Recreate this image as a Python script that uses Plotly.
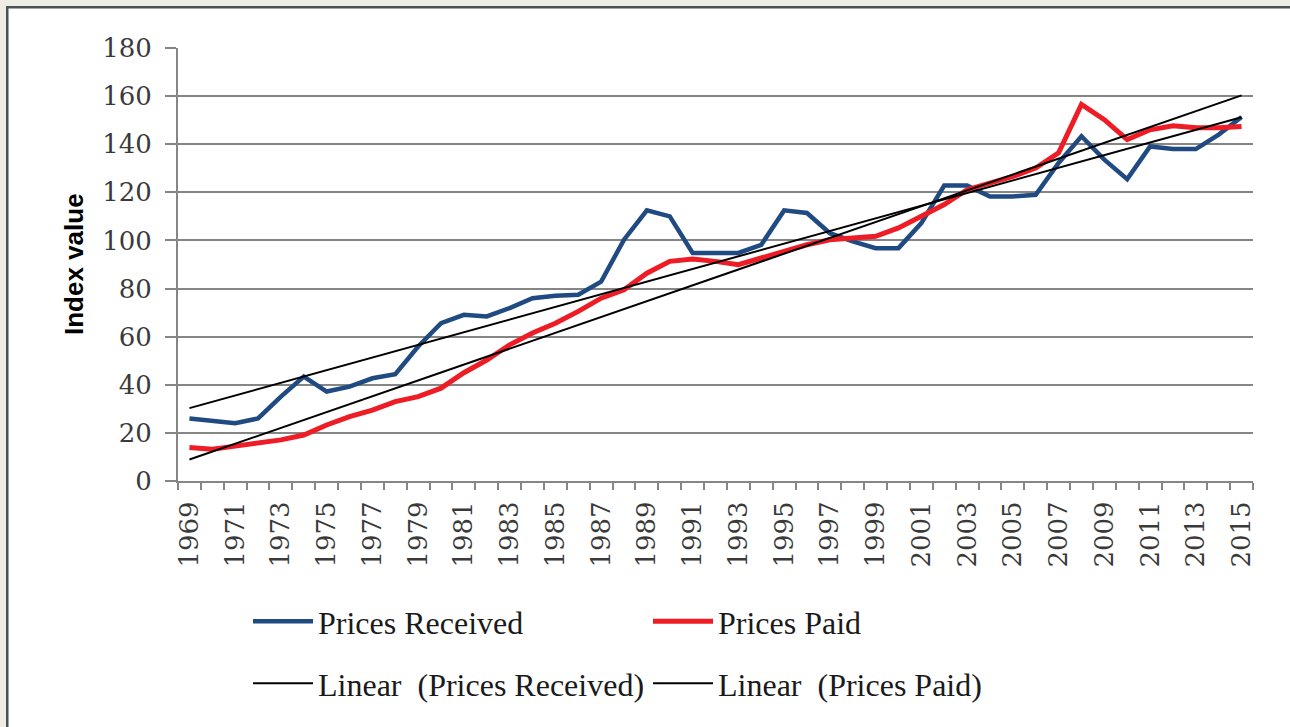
import numpy as np
import plotly.graph_objects as go

years = list(range(1969, 2016))
prices_received = [26, 25, 24, 26, 35.1, 43.4, 37.2, 39.2, 42.7, 44.4, 55.9, 65.6, 69.1,
                   68.4, 71.9, 76, 77, 77.4, 82.9, 100.3, 112.5, 110, 94.8, 94.8,
                   94.8, 98.2, 112.5, 111.4, 103, 99.6, 96.8, 96.8, 107.2, 122.8, 122.8,
                   118.3, 118.3, 119, 132.2, 143.3, 133.6, 125.5, 139.1, 138, 138, 144, 151.3]
prices_paid = [13.9, 13.2, 14.5, 15.9, 17.1, 19.1, 23.3, 26.8, 29.5, 33, 35.1, 38.6,
               45, 50.3, 56.6, 61.5, 65.6, 70.5, 76, 79.5, 86.4, 91.3, 92.3, 91.3,
               89.9, 92.7, 95.4, 98.2, 100.3, 101, 101.7, 105.2, 110, 114.9, 121.1,
               123.8, 126.6, 130.1, 136.4, 156.5, 150.2, 141.9, 146, 147.7, 146.8, 146.8, 147.4]
y_ticks = list(range(0, 181, 20))
x_tick_years = years[::2]

x = np.array(years, dtype=float)
def linfit(v):
    m, b = np.polyfit(x, np.array(v, dtype=float), 1)
    return m * x + b

BLUE = "#1F4A82"
RED = "#EE1C25"

fig = go.Figure()
fig.add_trace(go.Scatter(x=years, y=prices_received, mode="lines", name="Prices Received",
                         line=dict(color=BLUE, width=4.5), legend="legend"))
fig.add_trace(go.Scatter(x=years, y=prices_paid, mode="lines", name="Prices Paid",
                         line=dict(color=RED, width=5), legend="legend"))
fig.add_trace(go.Scatter(x=years, y=linfit(prices_received), mode="lines",
                         name="Linear  (Prices Received)", line=dict(color="black", width=2),
                         legend="legend2"))
fig.add_trace(go.Scatter(x=years, y=linfit(prices_paid), mode="lines",
                         name="Linear  (Prices Paid)", line=dict(color="black", width=2),
                         legend="legend2"))

L, R, T, B = 178, 37, 48, 246
W, H = 1290, 727
PW, PH = W - L - R, H - T - B
def px(xp):
    return (xp - L) / PW
def py(yp):
    return (H - B - yp) / PH

tickfont = dict(family="DejaVu Serif", size=26, color="#3A3A3A")
legfont = dict(family="Liberation Serif", size=32, color="#1A1A1A")

shapes = [
    dict(type="rect", xref="paper", yref="paper", x0=px(0), x1=px(W), y0=py(0), y1=py(6),
         fillcolor="#EFEBE5", line_width=0, layer="below"),
    dict(type="rect", xref="paper", yref="paper", x0=px(0), x1=px(6), y0=py(0), y1=py(H),
         fillcolor="#EFEBE5", line_width=0, layer="below"),
    dict(type="rect", xref="paper", yref="paper", x0=px(6), x1=px(W), y0=py(6), y1=py(8.5),
         fillcolor="#4B5157", line_width=0, layer="below"),
    dict(type="rect", xref="paper", yref="paper", x0=px(6), x1=px(8.5), y0=py(6), y1=py(H),
         fillcolor="#4B5157", line_width=0, layer="below"),
]

fig.update_layout(
    width=W, height=H,
    margin=dict(l=L, r=R, t=T, b=B, autoexpand=False),
    paper_bgcolor="white", plot_bgcolor="white",
    shapes=shapes,
    showlegend=True,
    legend=dict(orientation="h", x=px(248), y=py(594), xanchor="left", yanchor="top",
                entrywidth=325, entrywidthmode="pixels", itemwidth=60,
                font=legfont, bgcolor="rgba(0,0,0,0)"),
    legend2=dict(orientation="h", x=px(248), y=py(656), xanchor="left", yanchor="top",
                 entrywidth=325, entrywidthmode="pixels", itemwidth=60,
                 font=legfont, bgcolor="rgba(0,0,0,0)"),
    annotations=[dict(text="Index value", textangle=-90, xref="paper", yref="paper",
                      x=px(74), y=py(264), xanchor="center", yanchor="middle", showarrow=False,
                      font=dict(family="Liberation Sans", size=26, color="black", weight="bold"))],
)

fig.update_xaxes(
    range=[1968.5, 2015.5], tickmode="array", tickvals=x_tick_years,
    ticktext=[str(y) for y in x_tick_years], tickangle=-90, tickfont=tickfont,
    ticks="", ticklabelstandoff=8,
    showgrid=False, zeroline=False, showline=True, linecolor="#868686", linewidth=2,
    minor=dict(tickmode="linear", tick0=1968.5, dtick=1, ticks="outside", ticklen=7,
               tickcolor="#868686", tickwidth=2, showgrid=False),
)
fig.update_yaxes(
    range=[0, 180], tickmode="array", tickvals=y_ticks, tickfont=tickfont,
    ticks="outside", ticklen=11, tickcolor="#868686", tickwidth=2, ticklabelstandoff=8,
    showgrid=True, gridcolor="#868686", gridwidth=2, zeroline=False,
    showline=True, linecolor="#868686", linewidth=2,
)

fig.write_html("out.html", config={"displayModeBar": False},
               post_script="document.body.style.margin='0px';")
